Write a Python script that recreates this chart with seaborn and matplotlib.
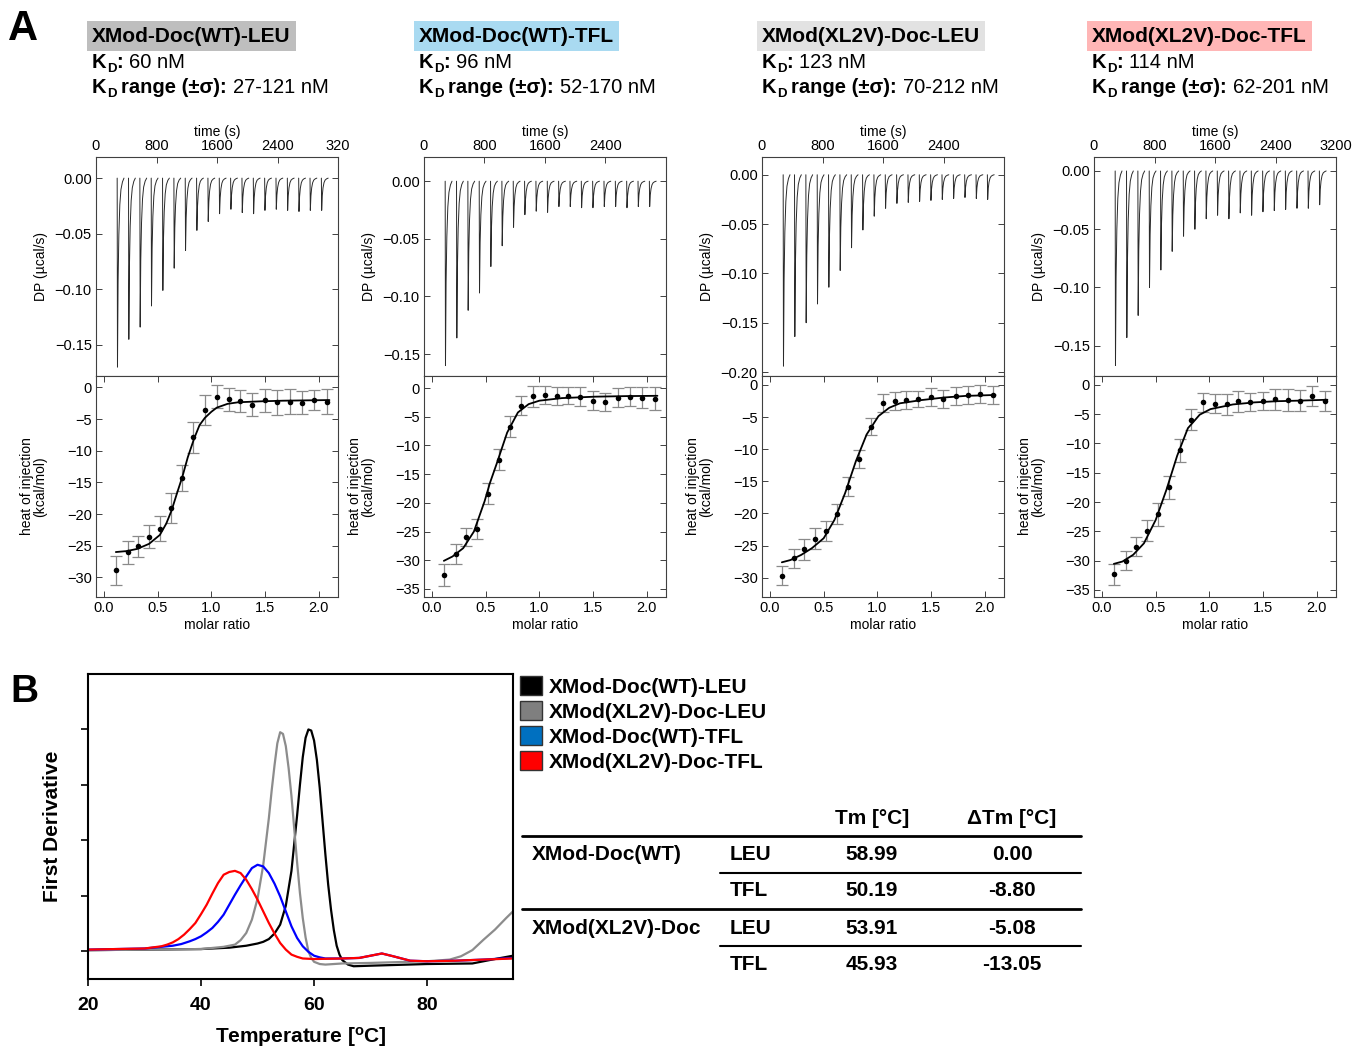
import pandas as pd
import matplotlib.pyplot as plt
import seaborn as sns
from matplotlib.patches import Patch

# --------------------------------------------------------------------------------
# Style
# --------------------------------------------------------------------------------

sns.set_theme(style="ticks")
plt.rcParams["font.family"] = ["Liberation Sans", "DejaVu Sans"]
plt.rcParams["mathtext.fontset"] = "custom"
plt.rcParams["mathtext.rm"] = "Liberation Sans"
plt.rcParams["mathtext.bf"] = "Liberation Sans:bold"
plt.rcParams["mathtext.it"] = "Liberation Sans:italic"
plt.rcParams["text.color"] = "black"
plt.rcParams["axes.labelcolor"] = "black"
plt.rcParams["xtick.color"] = "black"
plt.rcParams["ytick.color"] = "black"

# --------------------------------------------------------------------------------
# Panel A data (ITC)
# --------------------------------------------------------------------------------

Constructs = ["XMod-Doc(WT)-LEU", "XMod-Doc(WT)-TFL", "XMod(XL2V)-Doc-LEU", "XMod(XL2V)-Doc-TFL"]
Header_Colors = ["#BEBEBE", "#A9DAF1", "#E2E2E2", "#FFB6B6"]
KD_Values = ["60 nM", "96 nM", "123 nM", "114 nM"]
KD_Ranges = ["27-121 nM", "52-170 nM", "70-212 nM", "62-201 nM"]

Time_Ticks = [0, 800, 1600, 2400, 3200]
Time_Labels = [["0", "800", "1600", "2400", "320"],
               ["0", "800", "1600", "2400", ""],
               ["0", "800", "1600", "2400", ""],
               ["0", "800", "1600", "2400", "3200"]]

# injection times (s) and peak depth of each injection (ucal/s)
Inj_Times = [280, 430, 580, 730, 880, 1030, 1180, 1330, 1480, 1630,
             1780, 1930, 2080, 2230, 2380, 2530, 2680, 2830, 2980]

DP_1 = [-0.170, -0.145, -0.134, -0.115, -0.101, -0.081, -0.065, -0.047, -0.039, -0.032,
        -0.028, -0.031, -0.032, -0.029, -0.028, -0.029, -0.030, -0.029, -0.029]
DP_2 = [-0.160, -0.136, -0.112, -0.097, -0.074, -0.056, -0.040, -0.029, -0.026, -0.027,
        -0.022, -0.022, -0.023, -0.023, -0.022, -0.022, -0.023, -0.022, -0.022]
DP_3 = [-0.194, -0.164, -0.150, -0.131, -0.114, -0.097, -0.074, -0.056, -0.042, -0.034,
        -0.029, -0.028, -0.027, -0.026, -0.025, -0.024, -0.023, -0.024, -0.025]
DP_4 = [-0.167, -0.143, -0.124, -0.100, -0.085, -0.069, -0.056, -0.050, -0.041, -0.038,
        -0.041, -0.036, -0.038, -0.035, -0.034, -0.033, -0.032, -0.032, -0.029]

# shape of one injection peak (relative to its depth)
Peak_Offsets = [0, 4, 12, 22, 35, 50, 70, 90]
Peak_Shape = [0, 1.0, 0.55, 0.30, 0.14, 0.06, 0.02, 0]

DP_Ticks = [[0, -0.05, -0.10, -0.15],
            [0, -0.05, -0.10, -0.15],
            [0, -0.05, -0.10, -0.15, -0.20],
            [0, -0.05, -0.10, -0.15]]
DP_Lims = [(-0.178, 0.019), (-0.169, 0.021), (-0.204, 0.018), (-0.176, 0.012)]

Molar_Ratio = [0.11, 0.22, 0.32, 0.42, 0.52, 0.62, 0.73, 0.83, 0.94, 1.05,
               1.16, 1.27, 1.38, 1.50, 1.61, 1.73, 1.84, 1.96, 2.08]

Heat_1 = [-28.9, -26.05, -25.1, -23.6, -22.3, -19.05, -14.3, -7.9, -3.6, -1.5,
          -1.9, -2.15, -2.75, -2.05, -2.35, -2.25, -2.4, -1.95, -2.25]
Err_1 = [2.3, 1.8, 1.7, 1.8, 2.0, 2.3, 2.0, 2.4, 2.4, 1.8,
         1.8, 1.8, 1.8, 1.8, 2.0, 2.0, 1.8, 1.6, 2.0]
Heat_2 = [-32.55, -28.9, -26.0, -24.55, -18.4, -12.5, -6.7, -3.05, -1.45, -1.2,
          -1.4, -1.35, -1.5, -2.2, -2.4, -1.65, -1.5, -1.65, -1.85]
Err_2 = [1.9, 1.7, 1.6, 1.8, 1.8, 1.8, 1.8, 1.7, 1.8, 1.6,
         1.6, 1.5, 1.6, 1.6, 1.6, 1.6, 1.6, 1.8, 2.0]
Heat_3 = [-29.7, -27.0, -25.6, -23.9, -22.7, -20.05, -15.8, -11.45, -6.5, -2.85,
          -2.45, -2.3, -2.2, -1.9, -2.15, -1.65, -1.6, -1.35, -1.55]
Err_3 = [1.5, 1.5, 1.6, 1.7, 1.6, 1.6, 1.5, 1.4, 1.3, 1.4,
         1.4, 1.4, 1.3, 1.4, 1.4, 1.4, 1.4, 1.4, 1.4]
Heat_4 = [-32.3, -30.0, -27.6, -24.9, -22.1, -17.5, -11.2, -5.95, -3.0, -3.25,
          -3.3, -2.85, -2.95, -2.75, -2.5, -2.6, -2.75, -1.9, -2.7]
Err_4 = [1.8, 1.6, 1.6, 1.8, 2.0, 2.0, 2.0, 1.8, 1.6, 1.6,
         1.8, 1.8, 1.6, 1.6, 1.8, 1.8, 1.8, 1.7, 1.7]

Fit_X_1 = [0.11, 0.21, 0.31, 0.42, 0.52, 0.58, 0.63, 0.68, 0.73, 0.78, 0.84,
           0.89, 0.94, 1.00, 1.05, 1.15, 1.25, 1.46, 1.67, 1.88, 2.10]
Fit_Y_1 = [-26.0, -25.85, -25.5, -24.7, -23.3, -21.5, -19.4, -16.7, -14.1, -11.05, -8.05,
           -5.95, -4.8, -3.85, -3.2, -2.6, -2.35, -2.2, -2.1, -2.05, -2.0]
Fit_X_2 = [0.11, 0.19, 0.29, 0.39, 0.49, 0.54, 0.60, 0.70, 0.80, 0.90, 1.00, 1.21, 1.52, 1.82, 2.10]
Fit_Y_2 = [-30.1, -29.35, -27.9, -25.0, -19.7, -16.5, -13.3, -7.75, -4.25, -2.8, -2.2, -1.75, -1.5, -1.4, -1.35]
Fit_X_3 = [0.11, 0.19, 0.29, 0.39, 0.50, 0.60, 0.70, 0.80, 0.90, 1.01, 1.11, 1.21, 1.41, 1.62, 1.82, 2.10]
Fit_Y_3 = [-27.6, -27.25, -26.45, -25.4, -23.85, -21.0, -16.8, -11.85, -7.7, -4.85, -3.55, -2.85, -2.35, -1.95, -1.7, -1.55]
Fit_X_4 = [0.11, 0.19, 0.29, 0.39, 0.50, 0.60, 0.70, 0.80, 0.91, 1.01, 1.22, 1.42, 1.63, 1.84, 2.10]
Fit_Y_4 = [-30.55, -30.15, -29.0, -27.05, -23.05, -17.9, -12.1, -7.4, -5.1, -4.15, -3.35, -3.0, -2.8, -2.7, -2.55]

Heat_Ticks = [[0, -5, -10, -15, -20, -25, -30],
              [0, -5, -10, -15, -20, -25, -30, -35],
              [0, -5, -10, -15, -20, -25, -30],
              [0, -5, -10, -15, -20, -25, -30, -35]]
Heat_Lims = [(-33.1, 1.8), (-36.4, 2.1), (-33.0, 1.4), (-36.2, 1.5)]

DP = [DP_1, DP_2, DP_3, DP_4]
HEAT = [Heat_1, Heat_2, Heat_3, Heat_4]
ERR = [Err_1, Err_2, Err_3, Err_4]
FIT_X = [Fit_X_1, Fit_X_2, Fit_X_3, Fit_X_4]
FIT_Y = [Fit_Y_1, Fit_Y_2, Fit_Y_3, Fit_Y_4]

# --------------------------------------------------------------------------------
# Panel B data (first derivative melting curves)
# --------------------------------------------------------------------------------

Samples = ["XMod-Doc(WT)-LEU", "XMod(XL2V)-Doc-LEU", "XMod-Doc(WT)-TFL", "XMod(XL2V)-Doc-TFL"]
Line_Colors = ["#000000", "#8C8C8C", "#0000FF", "#FF0000"]
Legend_Colors = ["#000000", "#7F7F7F", "#0070C0", "#FF0000"]

T_WT_LEU = [20, 30, 40, 45, 48, 50, 51, 52, 53, 54, 55, 56, 57, 57.5, 58, 58.5, 59, 59.5, 60,
            60.5, 61, 61.5, 62, 62.5, 63, 63.5, 64, 64.5, 65, 66, 67, 70, 80, 88, 90, 92, 95.2]
D_WT_LEU = [0.02, 0.03, 0.04, 0.065, 0.10, 0.14, 0.17, 0.22, 0.32, 0.48, 0.82, 1.45, 2.45, 3.0, 3.5,
            3.85, 4.0, 3.98, 3.8, 3.45, 2.95, 2.35, 1.75, 1.2, 0.75, 0.38, 0.10, -0.06, -0.16,
            -0.24, -0.27, -0.26, -0.23, -0.22, -0.18, -0.14, -0.08]

T_XL_LEU = [20, 40, 44, 46, 47, 48, 49, 50, 51, 52, 52.5, 53, 53.5, 54, 54.5, 55, 55.5, 56, 56.5,
            57, 57.5, 58, 58.5, 59, 59.5, 60, 61, 62, 65, 70, 80, 84, 86, 88, 90, 92, 94, 95.2]
D_XL_LEU = [0.02, 0.04, 0.08, 0.12, 0.20, 0.33, 0.57, 0.95, 1.55, 2.4, 2.9, 3.35, 3.75, 3.95, 3.92,
            3.7, 3.3, 2.8, 2.2, 1.6, 1.05, 0.6, 0.25, 0.0, -0.12, -0.19, -0.23, -0.24, -0.22,
            -0.21, -0.18, -0.15, -0.09, 0.02, 0.21, 0.39, 0.60, 0.72]

T_WT_TFL = [20, 30, 35, 36.5, 38, 39, 40, 41, 42, 43, 44, 45, 46, 47, 48, 49, 50, 51, 52, 53, 54,
            55, 56, 57, 58, 59, 60, 61, 62, 65, 68, 70, 72, 74, 77, 80, 85, 90, 95.2]
D_WT_TFL = [0.03, 0.05, 0.10, 0.13, 0.18, 0.22, 0.27, 0.34, 0.42, 0.53, 0.66, 0.84, 1.02, 1.19,
            1.35, 1.50, 1.56, 1.53, 1.41, 1.22, 0.99, 0.72, 0.45, 0.24, 0.09, -0.01, -0.08, -0.11,
            -0.13, -0.13, -0.12, -0.08, -0.04, -0.09, -0.17, -0.18, -0.17, -0.15, -0.12]

T_XL_TFL = [20, 30, 33, 34, 35, 36, 37, 38, 39, 40, 41, 42, 43, 44, 45, 46, 47, 48, 49, 50, 51,
            52, 53, 54, 55, 56, 57, 58, 60, 65, 68, 70, 72, 74, 77, 80, 85, 90, 95.2]
D_XL_TFL = [0.03, 0.05, 0.09, 0.12, 0.16, 0.22, 0.30, 0.40, 0.51, 0.67, 0.84, 1.04, 1.23, 1.38,
            1.43, 1.45, 1.41, 1.29, 1.12, 0.93, 0.72, 0.51, 0.32, 0.15, 0.03, -0.06, -0.10, -0.13,
            -0.14, -0.13, -0.12, -0.08, -0.04, -0.09, -0.17, -0.18, -0.17, -0.15, -0.13]

Melt_T = [T_WT_LEU, T_XL_LEU, T_WT_TFL, T_XL_TFL]
Melt_D = [D_WT_LEU, D_XL_LEU, D_WT_TFL, D_XL_TFL]

Table_Groups = ["XMod-Doc(WT)", "", "XMod(XL2V)-Doc", ""]
Table_Ligands = ["LEU", "TFL", "LEU", "TFL"]
Table_Tm = ["58.99", "50.19", "53.91", "45.93"]
Table_dTm = ["0.00", "-8.80", "-5.08", "-13.05"]

# --------------------------------------------------------------------------------
# Figure
# --------------------------------------------------------------------------------

W, H = 1353, 1049
fig = plt.figure(figsize=(W / 100, H / 100), dpi=100)

# invisible full-figure axes, used for the free texts
ax_bg = fig.add_axes([0, 0, 1, 1], zorder=-1)
ax_bg.set_xlim(0, 1)
ax_bg.set_ylim(0, 1)
ax_bg.set_axis_off()


def Box(l, t, r, b):
    return [l / W, 1 - b / H, (r - l) / W, (b - t) / H]


def Minus(v, fmt):
    return fmt.format(v).replace("-", "\u2212")


Spine_Color = "#404040"

ax_bg.text(8 / W, 1 - 29 / H, "A", fontsize=30, fontweight="bold", va="center", ha="left")

Panel_Left = [96, 424, 762, 1094]
Header_X = [92, 419, 762, 1092]

for i in range(4):
    L = Panel_Left[i]

    # ---------------- header texts ----------------
    ax_bg.text(Header_X[i] / W, 1 - 36 / H, Constructs[i], fontsize=15, fontweight="bold",
               va="center", ha="left",
               bbox=dict(boxstyle="square,pad=0.25", facecolor=Header_Colors[i], edgecolor="none"))

    for y_base, word, value in [(68, "", KD_Values[i]), (93, "range (\u00b1\u03c3):", KD_Ranges[i])]:
        t1 = ax_bg.text(Header_X[i] / W, 1 - y_base / H, "K", fontsize=14.5, fontweight="bold",
                        va="baseline", ha="left")
        t2 = ax_bg.annotate("D", xy=(1, 0), xycoords=t1, xytext=(0.3, -2), textcoords="offset points",
                            fontsize=9.5, fontweight="bold", va="bottom", ha="left")
        if word == "":
            t3 = ax_bg.annotate(":", xy=(1, 0), xycoords=t2, xytext=(0, 2), textcoords="offset points",
                                fontsize=14.5, fontweight="bold", va="bottom", ha="left")
        else:
            t3 = ax_bg.annotate(word, xy=(1, 0), xycoords=t2, xytext=(3.5, 2), textcoords="offset points",
                                fontsize=14.5, fontweight="bold", va="bottom", ha="left")
        ax_bg.annotate(value, xy=(1, 0), xycoords=t3, xytext=(4, 0), textcoords="offset points",
                       fontsize=14.5, va="bottom", ha="left")

    # ---------------- thermogram ----------------
    ax_t = fig.add_axes(Box(L, 157, L + 242, 376))
    rows = []
    for k, (t0, d) in enumerate(zip(Inj_Times, DP[i])):
        for off, frac in zip(Peak_Offsets, Peak_Shape):
            rows.append({"time": t0 + off, "dp": d * frac, "inj": k})
    df_t = pd.DataFrame(rows)
    sns.lineplot(data=df_t, x="time", y="dp", units="inj", estimator=None, sort=False,
                 color="#2a2a2a", lw=0.7, ax=ax_t)

    ax_t.set_xlim(0, 3200)
    ax_t.set_ylim(DP_Lims[i])
    ax_t.xaxis.tick_top()
    ax_t.xaxis.set_label_position("top")
    ax_t.set_xticks(Time_Ticks)
    ax_t.set_xticklabels(Time_Labels[i])
    ax_t.set_xlabel("time (s)", fontsize=10, labelpad=2)
    ax_t.set_yticks(DP_Ticks[i])
    ax_t.set_yticklabels([Minus(v, "{:.2f}") for v in DP_Ticks[i]])
    ax_t.set_ylabel("DP (\u00b5cal/s)", fontsize=10)
    ax_t.yaxis.set_label_coords(-0.2, 0.5)
    ax_t.tick_params(axis="both", direction="in", length=4, width=0.7, color=Spine_Color,
                     labelsize=10.5, pad=3, top=True, bottom=False, left=True, right=True,
                     labeltop=True, labelbottom=False)

    # ---------------- binding isotherm ----------------
    ax_b = fig.add_axes(Box(L, 376, L + 242, 597))
    ax_b.errorbar(Molar_Ratio, HEAT[i], yerr=ERR[i], fmt="none", ecolor="#8a8a8a",
                  elinewidth=0.9, capsize=4.5, capthick=0.9, zorder=2)
    sns.lineplot(x=FIT_X[i], y=FIT_Y[i], estimator=None, sort=False, color="black", lw=1.3,
                 ax=ax_b, zorder=3)
    sns.scatterplot(x=Molar_Ratio, y=HEAT[i], color="black", s=16, linewidth=0, ax=ax_b, zorder=4)

    ax_b.set_xlim(-0.075, 2.18)
    ax_b.set_ylim(Heat_Lims[i])
    ax_b.set_xticks([0, 0.5, 1.0, 1.5, 2.0])
    ax_b.set_xticklabels(["0.0", "0.5", "1.0", "1.5", "2.0"])
    ax_b.set_yticks(Heat_Ticks[i])
    ax_b.set_yticklabels([Minus(v, "{:d}") for v in Heat_Ticks[i]])
    ax_b.set_xlabel("molar ratio", fontsize=10, labelpad=2)
    ax_b.set_ylabel("heat of injection\n(kcal/mol)", fontsize=10, linespacing=1.0)
    ax_b.yaxis.set_label_coords(-0.2, 0.5)
    ax_b.tick_params(axis="both", direction="in", length=4, width=0.7, color=Spine_Color,
                     labelsize=10.5, pad=3, top=True, bottom=True, left=True, right=True)

    for ax in (ax_t, ax_b):
        for s in ax.spines.values():
            s.set_color(Spine_Color)
            s.set_linewidth(0.8)

# --------------------------------------------------------------------------------
# Panel B
# --------------------------------------------------------------------------------

ax_bg.text(10 / W, 1 - 692 / H, "B", fontsize=28, fontweight="bold", va="center", ha="left")

ax_B = fig.add_axes(Box(88, 674, 513, 979))
frames = []
for name, t, d in zip(Samples, Melt_T, Melt_D):
    frames.append(pd.DataFrame({"T": t, "d": d, "sample": name}))
df_B = pd.concat(frames, ignore_index=True)
sns.lineplot(data=df_B, x="T", y="d", hue="sample", hue_order=Samples,
             palette=dict(zip(Samples, Line_Colors)), estimator=None, sort=False,
             lw=1.6, legend=False, ax=ax_B)

ax_B.set_xlim(20, 95.2)
ax_B.set_ylim(-0.5, 5.0)
ax_B.set_xticks([20, 40, 60, 80])
ax_B.set_xticklabels(["20", "40", "60", "80"], fontweight="bold")
ax_B.set_yticks([0, 1, 2, 3, 4])
ax_B.set_yticklabels([])
ax_B.tick_params(axis="both", direction="out", length=5, width=1.2, color="black",
                 labelsize=14, pad=8)
ax_B.set_xlabel("Temperature [$\\mathregular{^o}$C]", fontsize=15, fontweight="bold", labelpad=8)
ax_B.set_ylabel("First Derivative", fontsize=15, fontweight="bold", labelpad=6)
for s in ax_B.spines.values():
    s.set_color("black")
    s.set_linewidth(1.5)

Handles = [Patch(facecolor=c, edgecolor="#333333", linewidth=1.0) for c in Legend_Colors]
fig.legend(Handles, Samples, loc="upper left", bbox_to_anchor=(520 / W, 1 - 676 / H),
           frameon=False, prop=dict(weight="bold", size=15), handlelength=1.05, handleheight=1.05,
           handletextpad=0.35, labelspacing=0.2, borderpad=0, borderaxespad=0)

# --------------------------------------------------------------------------------
# Tm table
# --------------------------------------------------------------------------------

ax_bg.text(872 / W, 1 - 818 / H, "Tm [\u00b0C]", fontsize=15, fontweight="bold", ha="center", va="center")
ax_bg.text(1012 / W, 1 - 818 / H, "\u0394Tm [\u00b0C]", fontsize=15, fontweight="bold", ha="center", va="center")

Row_Y = [855, 891, 928, 965]
for r in range(4):
    y = 1 - Row_Y[r] / H
    ax_bg.text(532 / W, y, Table_Groups[r], fontsize=15, fontweight="bold", ha="left", va="center")
    ax_bg.text(730 / W, y, Table_Ligands[r], fontsize=15, fontweight="bold", ha="left", va="center")
    ax_bg.text(872 / W, y, Table_Tm[r], fontsize=15, fontweight="bold", ha="center", va="center")
    ax_bg.text(1012 / W, y, Table_dTm[r], fontsize=15, fontweight="bold", ha="center", va="center")

for y, x0, lw in [(836, 522, 2.0), (873, 720, 1.5), (909, 522, 2.0), (946, 720, 1.5)]:
    ax_bg.plot([x0 / W, 1081 / W], [1 - y / H, 1 - y / H], color="black", lw=lw)

fig.savefig("out.png", dpi=100)
